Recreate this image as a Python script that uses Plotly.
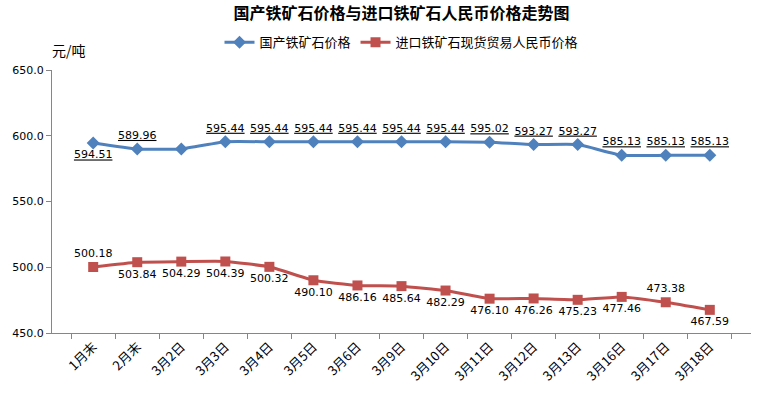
import plotly.graph_objects as go

categories = ["1月末", "2月末", "3月2日", "3月3日", "3月4日", "3月5日", "3月6日", "3月9日",
              "3月10日", "3月11日", "3月12日", "3月13日", "3月16日", "3月17日", "3月18日"]
domestic = [594.51, 589.96, 589.96, 595.44, 595.44, 595.44, 595.44, 595.44, 595.44,
            595.02, 593.27, 593.27, 585.13, 585.13, 585.13]
imported = [500.18, 503.84, 504.29, 504.39, 500.32, 490.10, 486.16, 485.64, 482.29,
            476.10, 476.26, 475.23, 477.46, 473.38, 467.59]
domestic_labels = ["594.51", "589.96", "", "595.44", "595.44", "595.44", "595.44", "595.44",
                   "595.44", "595.02", "593.27", "593.27", "585.13", "585.13", "585.13"]
imported_labels = [f"{v:.2f}" for v in imported]

dom_pos = ["bottom center"] + ["top center"] * 14
imp_pos = ["top center"] + ["bottom center"] * 12 + ["top center", "bottom center"]

BLUE = "#4F81BD"
RED = "#C0504D"
NUMFONT = "DejaVu Sans"
CJK = "Noto Sans CJK SC"

fig = go.Figure()
fig.add_trace(go.Scatter(
    x=categories, y=domestic, name="国产铁矿石价格", mode="lines+markers+text",
    line=dict(color=BLUE, width=3, shape="spline", smoothing=0.4),
    marker=dict(symbol="diamond", size=10, color=BLUE),
    text=domestic_labels, textposition=dom_pos,
    textfont=dict(family=NUMFONT, size=11, color="#000000", lineposition="under"),
))
fig.add_trace(go.Scatter(
    x=categories, y=imported, name="进口铁矿石现货贸易人民币价格", mode="lines+markers+text",
    line=dict(color=RED, width=3, shape="spline", smoothing=0.4),
    marker=dict(symbol="square", size=10, color=RED),
    text=imported_labels, textposition=imp_pos,
    textfont=dict(family=NUMFONT, size=11, color="#000000"),
))

fig.update_layout(
    width=760, height=395,
    margin=dict(l=52, r=9, t=70, b=62, autoexpand=False),
    paper_bgcolor="white", plot_bgcolor="white",
    title=dict(text="<b>国产铁矿石价格与进口铁矿石人民币价格走势图</b>", x=0.5, xanchor="center",
               xref="paper", y=0.965, yanchor="middle", yref="container",
               font=dict(family=CJK, size=16, color="#000000")),
    legend=dict(orientation="h", x=0.5, xanchor="center", y=0.893, yanchor="middle",
                yref="container",
                font=dict(family=CJK, size=13, color="#000000"), itemwidth=30),
    showlegend=True,
    annotations=[dict(text="元/吨", xref="paper", yref="paper", x=-0.003, y=1.075,
                      xanchor="left", yanchor="middle", showarrow=False,
                      font=dict(family=CJK, size=14, color="#000000"))],
)
fig.update_xaxes(
    showgrid=False, showline=True, linecolor="#868686", linewidth=1,
    ticks="outside", tickson="boundaries", ticklen=5, tickcolor="#868686",
    tickangle=-45, tickfont=dict(family=CJK, size=13, color="#000000"),
)
fig.update_yaxes(
    range=[450, 650], dtick=50, tickformat=".1f", showgrid=False, zeroline=False,
    showline=True, linecolor="#868686", linewidth=1,
    ticks="outside", ticklen=5, tickcolor="#868686",
    tickfont=dict(family=NUMFONT, size=11, color="#000000"),
)

fig.write_html("out.html", config={"displayModeBar": False},
               post_script="document.body.style.margin='0';")
